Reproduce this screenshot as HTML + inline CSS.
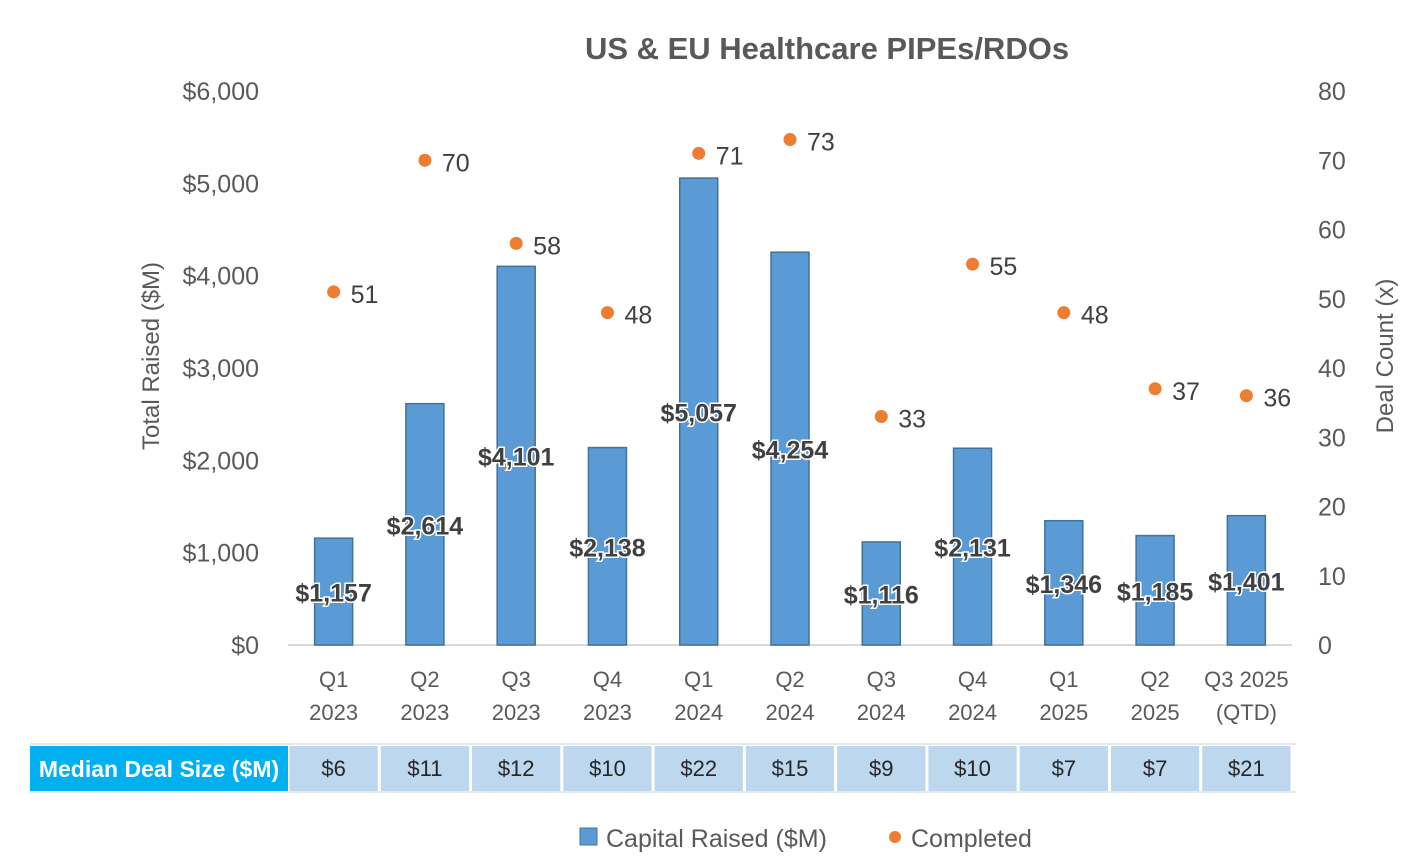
<!DOCTYPE html>
<html><head><meta charset="utf-8"><style>
body{margin:0;background:#fff;width:1402px;height:862px;overflow:hidden;font-family:"Liberation Sans",sans-serif}
</style></head><body>
<svg id="chart" width="1402" height="862" xmlns="http://www.w3.org/2000/svg" font-family="Liberation Sans, sans-serif">
<text x="827" y="59" text-anchor="middle" font-size="31" font-weight="bold" fill="#595959">US &amp; EU Healthcare PIPEs/RDOs</text>
<text transform="translate(159,356) rotate(-90)" text-anchor="middle" font-size="24" fill="#595959">Total Raised ($M)</text>
<text transform="translate(1393,356) rotate(-90)" text-anchor="middle" font-size="24" fill="#595959">Deal Count (x)</text>
<g id="g"></g>
<g>
<rect x="580" y="828" width="17" height="17" fill="#5b9bd5" stroke="#41719c"/>
<text x="606" y="847" font-size="25" fill="#595959">Capital Raised ($M)</text>
<circle cx="895" cy="837" r="6" fill="#ed7d31"/>
<text x="911" y="847" font-size="25" fill="#595959">Completed</text>
</g>
</svg>
<script>
const categories=[["Q1","2023"],["Q2","2023"],["Q3","2023"],["Q4","2023"],["Q1","2024"],["Q2","2024"],["Q3","2024"],["Q4","2024"],["Q1","2025"],["Q2","2025"],["Q3 2025","(QTD)"]];
const capital=[1157,2614,4101,2138,5057,4254,1116,2131,1346,1185,1401];
const deals=[51,70,58,48,71,73,33,55,48,37,36];
const medians=["$6","$11","$12","$10","$22","$15","$9","$10","$7","$7","$21"];
const leftTicks=[0,1000,2000,3000,4000,5000,6000];
const rightTicks=[0,10,20,30,40,50,60,70,80];
const NS="http://www.w3.org/2000/svg",g=document.getElementById('g');
const x0=288,x1=1292,yb=645,yt=91,step=(x1-x0)/categories.length;
const xc=i=>x0+step*(i+0.5);
const yL=v=>yb-(v/6000)*(yb-yt);
const yR=v=>yb-(v/80)*(yb-yt);
function el(t,a,txt){const e=document.createElementNS(NS,t);for(const k in a)e.setAttribute(k,a[k]);if(txt!=null)e.textContent=txt;g.appendChild(e);return e;}
const fmt=v=>"$"+v.toLocaleString("en-US");
leftTicks.forEach(v=>{const e=el('text',{x:259,y:yL(v)+9,'text-anchor':'end','font-size':25,fill:'#595959'},fmt(v));

});
rightTicks.forEach(v=>{const e=el('text',{x:1318,y:yR(v)+9,'font-size':25,fill:'#595959'},v);

});
const ax=el('line',{x1:x0,x2:x1,y1:yb,y2:yb,stroke:'#d9d9d9','stroke-width':2});


capital.forEach((v,i)=>{
 const b=el('rect',{x:xc(i)-19,y:yL(v),width:38,height:yb-yL(v),fill:'#5b9bd5',stroke:'#41719c','stroke-width':1.5});
 
 
 const t=el('text',{x:xc(i),y:yL(v/2)+10,'text-anchor':'middle','font-size':25,'font-weight':'bold',fill:'#404040',stroke:'#fff','stroke-width':3,'paint-order':'stroke'},fmt(v));
 
 
 const c=categories[i];
 const l1=el('text',{x:xc(i),y:687,'text-anchor':'middle','font-size':22,fill:'#595959'},c[0]);
 
 
 const l2=el('text',{x:xc(i),y:720,'text-anchor':'middle','font-size':22,fill:'#595959'},c[1]);
 
 
});
deals.forEach((v,i)=>{
 const p=el('circle',{cx:xc(i),cy:yR(v),r:6.5,fill:'#ed7d31'});
 
 
 const t=el('text',{x:xc(i)+17,y:yR(v)+11,'font-size':25,fill:'#404040'},v);
 
 
});
// table
const tl=el('line',{x1:30,x2:1296,y1:744,y2:744,stroke:'#d0d0d0'});


const bl=el('line',{x1:30,x2:1296,y1:792,y2:792,stroke:'#d0d0d0'});


const hc=el('rect',{x:30,y:746,width:258,height:45,fill:'#00b0f0'});


const ht=el('text',{x:159,y:777,'text-anchor':'middle','font-size':23,'font-weight':'bold',fill:'#fff'},'Median Deal Size ($M)');


medians.forEach((m,i)=>{
 const r=el('rect',{x:x0+step*i+1.5,y:746,width:step-3,height:45,fill:'#bdd7ee'});
 
 
 const t=el('text',{x:xc(i),y:776,'text-anchor':'middle','font-size':22,fill:'#262626'},m);
 
 
});
</script>
</body></html>
